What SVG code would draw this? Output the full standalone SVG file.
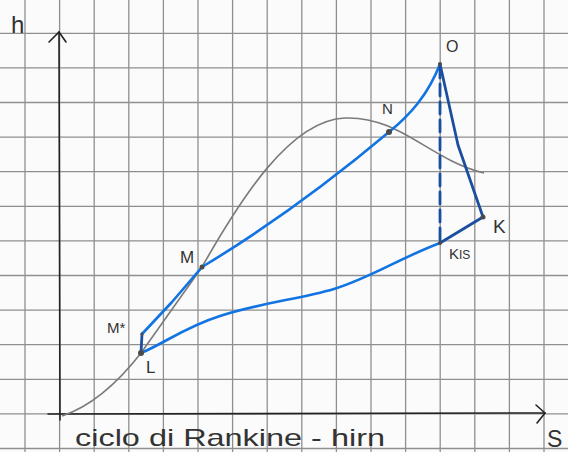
<svg xmlns="http://www.w3.org/2000/svg" width="568" height="452" viewBox="0 0 568 452">
<style>
.grid line{stroke:#8f8f8f;stroke-width:1.3}
.axis{stroke:#222;stroke-width:1.6;fill:none;stroke-linecap:round}
.dome{stroke:#7a7a7a;stroke-width:1.6;fill:none}
.blue{stroke:#1274e2;stroke-width:2.6;fill:none;stroke-linecap:round;stroke-linejoin:round}
.dark{stroke:#1b4f9e;stroke-width:2.8;fill:none;stroke-linecap:round;stroke-linejoin:round}
.lbl{font-family:"Liberation Sans",Arial,sans-serif;fill:#333}
.pt{fill:#4a4a4a}
</style>
<rect width="568" height="452" fill="#fbfbfb"/>
<g class="grid">
<line x1="25" y1="0" x2="25" y2="452"/><line x1="59.6" y1="0" x2="59.6" y2="452"/><line x1="94.2" y1="0" x2="94.2" y2="452"/><line x1="128.8" y1="0" x2="128.8" y2="452"/><line x1="163.4" y1="0" x2="163.4" y2="452"/><line x1="198" y1="0" x2="198" y2="452"/><line x1="232.6" y1="0" x2="232.6" y2="452"/><line x1="267.2" y1="0" x2="267.2" y2="452"/><line x1="301.8" y1="0" x2="301.8" y2="452"/><line x1="336.4" y1="0" x2="336.4" y2="452"/><line x1="371" y1="0" x2="371" y2="452"/><line x1="405.6" y1="0" x2="405.6" y2="452"/><line x1="440.2" y1="0" x2="440.2" y2="452"/><line x1="474.8" y1="0" x2="474.8" y2="452"/><line x1="509.4" y1="0" x2="509.4" y2="452"/><line x1="544" y1="0" x2="544" y2="452"/>
<line x1="0" y1="33.3" x2="568" y2="33.3"/><line x1="0" y1="67.9" x2="568" y2="67.9"/><line x1="0" y1="102.5" x2="568" y2="102.5"/><line x1="0" y1="137.1" x2="568" y2="137.1"/><line x1="0" y1="171.7" x2="568" y2="171.7"/><line x1="0" y1="206.3" x2="568" y2="206.3"/><line x1="0" y1="240.9" x2="568" y2="240.9"/><line x1="0" y1="275.5" x2="568" y2="275.5"/><line x1="0" y1="310.1" x2="568" y2="310.1"/><line x1="0" y1="344.7" x2="568" y2="344.7"/><line x1="0" y1="379.3" x2="568" y2="379.3"/><line x1="0" y1="413.9" x2="568" y2="413.9"/><line x1="0" y1="448.5" x2="568" y2="448.5"/>
</g>
<g id="axes">
<path class="axis" d="M60 420 L59 32"/>
<path class="axis" d="M49 42 L59 32 L66 42"/>
<path class="axis" d="M48 414 L545 413"/>
<path class="axis" d="M536 405 L545 413 L537 423"/>
<text class="lbl" x="11" y="33" style="font-size:24px">h</text>
<text class="lbl" x="547" y="447" style="font-size:23px">S</text>
</g>
<g id="dome">
<path class="dome" d="M62 416 C95 405 120 380 141 353 L202 267 C240 200 290 120 345 118 C400 116 430 160 484 173"/>
</g>
<g id="connectors">
<path class="dark" d="M141 353 L142 334"/>
<path class="blue" d="M142 334 L172 302 L202 267"/>
<path class="blue" d="M202 267 C260 232 320 190 389 132 C410 115 428 95 440 64"/>
<path class="dark" d="M440 64 L458 145 L483 217"/>
<path class="dark" stroke-width="3.6" d="M483 217 L440 243"/>
<path class="blue" d="M440 243 C400 258 370 278 334 289 C300 299 260 303 220 316 C185 327 165 343 141 353"/>
<path class="dark" stroke-dasharray="12 6" d="M440 66 L440 243"/>
</g>
<g id="node-O"><circle class="pt" cx="440" cy="64" r="2"/><text class="lbl" x="446" y="52" style="font-size:16px">O</text></g>
<g id="node-N"><circle class="pt" cx="389" cy="132" r="3"/><text class="lbl" x="382" y="114" style="font-size:15px">N</text></g>
<g id="node-K"><circle class="pt" cx="483" cy="217" r="2.5"/><text class="lbl" x="493" y="233" style="font-size:19px">K</text></g>
<g id="node-KIS"><circle class="pt" cx="440" cy="243" r="2"/><text class="lbl" x="449" y="259" style="font-size:15px">K<tspan style="font-size:12px">IS</tspan></text></g>
<g id="node-M"><circle class="pt" cx="202" cy="267" r="2.5"/><text class="lbl" x="180" y="263" style="font-size:17px">M</text></g>
<g id="node-Mstar"><circle class="pt" cx="142" cy="334" r="1.5"/><text class="lbl" x="107" y="333" style="font-size:15px">M*</text></g>
<g id="node-L"><circle class="pt" cx="141" cy="353" r="3"/><text class="lbl" x="146" y="373" style="font-size:17px">L</text></g>
<text class="lbl" x="75" y="446" style="font-size:24px" textLength="310" lengthAdjust="spacingAndGlyphs">ciclo di Rankine - hirn</text>
</svg>
